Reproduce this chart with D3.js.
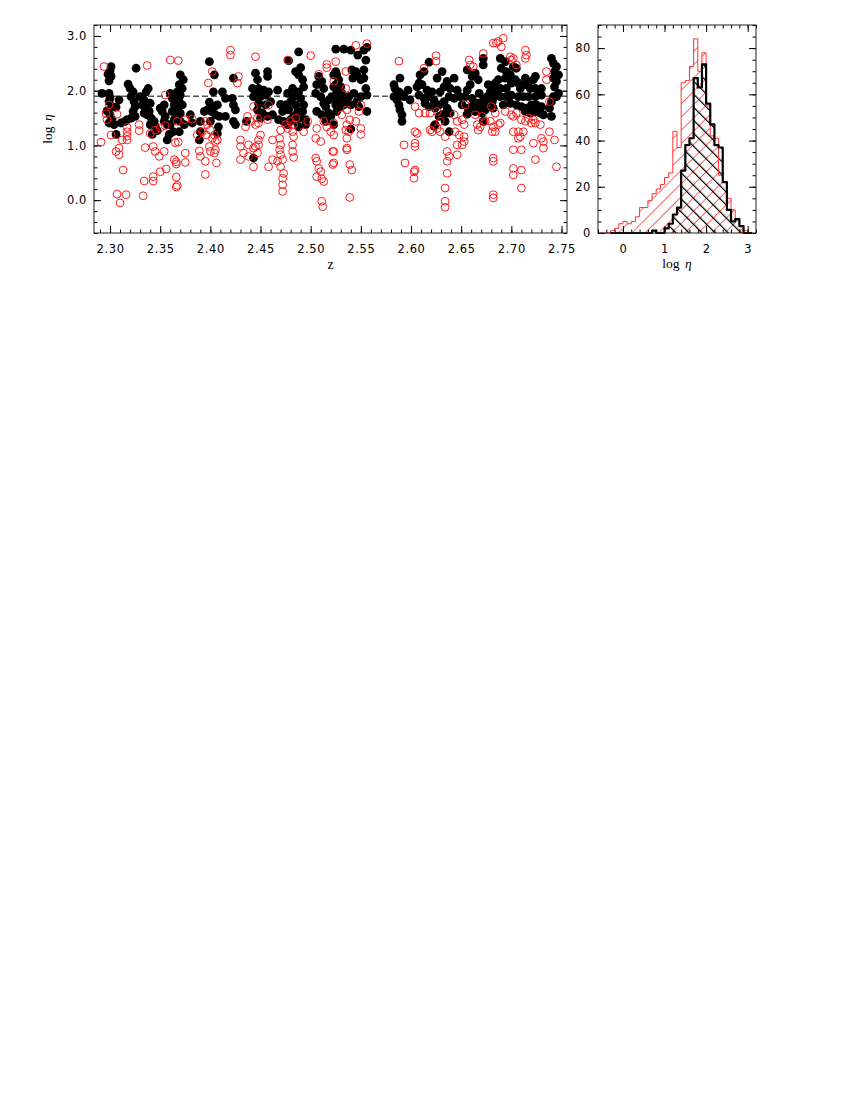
<!DOCTYPE html>
<html>
<head>
<meta charset="utf-8">
<script src="https://cdn.jsdelivr.net/npm/d3@7"></script>
<style>body{margin:0;background:#fff}</style>
</head>
<body>
<svg width="850" height="1100"></svg>
<script>
// black: above the cut, red open: the rest  [z, log eta]
var blackPts = [
  [2.301,2.44],[2.300,2.36],[2.298,2.30],[2.301,2.26],[2.299,2.18],[2.326,2.41],
  [2.292,1.95],[2.299,1.95],[2.300,1.87],[2.299,1.80],[2.302,1.71],[2.297,1.63],[2.300,1.56],[2.302,1.47],[2.299,1.41],[2.304,1.38],
  [2.306,1.20],[2.309,1.83],[2.306,1.70],
  [2.311,1.41],[2.315,1.44],[2.317,1.47],[2.321,1.50],[2.325,1.53],
  [2.318,2.12],[2.320,2.04],[2.323,1.98],[2.321,1.89],[2.324,1.80],[2.325,1.71],[2.323,1.62],
  [2.330,1.89],[2.334,1.83],[2.332,1.74],[2.336,1.98],[2.338,2.04],[2.335,1.68],[2.339,1.62],[2.340,1.77],
  [2.334,1.59],[2.337,1.56],[2.341,1.50],[2.344,1.44],[2.340,1.38],[2.345,1.35],[2.347,1.27],[2.342,1.20],
  [2.350,1.68],[2.354,1.74],[2.352,1.62],[2.355,1.53],[2.354,1.44],[2.357,1.38],[2.359,1.20],[2.357,1.10],
  [2.360,1.95],[2.362,1.86],[2.364,1.74],[2.362,1.62],[2.364,1.47],[2.360,1.38],[2.363,1.25],
  [2.370,2.29],[2.373,2.20],[2.369,2.11],[2.372,2.04],[2.367,1.98],[2.370,1.92],[2.366,1.86],[2.369,1.80],[2.372,1.74],[2.367,1.65],[2.370,1.59],[2.366,1.50],[2.370,1.44],[2.374,1.38],[2.369,1.25],
  [2.380,1.56],[2.382,1.41],[2.390,1.44],[2.389,1.10],[2.390,1.25],
  [2.394,1.62],[2.397,1.65],[2.401,1.62],[2.399,1.79],[2.404,1.71],[2.407,1.74],[2.405,1.56],[2.400,1.44],
  [2.399,2.53],[2.404,2.29],[2.409,1.53],[2.408,1.34],[2.407,1.22],
  [2.403,1.98],[2.412,1.98],[2.415,1.86],
  [2.423,2.23],[2.422,1.86],[2.423,1.74],[2.425,1.65],[2.423,1.44],[2.425,1.38],
  [2.415,1.53],[2.436,1.44],[2.442,2.04],[2.443,1.89],[2.443,0.77],[2.445,2.32],
  [2.447,2.20],[2.457,2.35],[2.457,2.26],
  [2.448,2.04],[2.453,2.01],[2.458,1.98],[2.445,1.95],[2.450,1.89],[2.455,1.92],[2.460,1.80],[2.448,1.77],[2.455,1.74],[2.447,1.65],[2.452,1.59],[2.450,1.50],[2.457,1.53],[2.462,1.56],
  [2.468,1.47],[2.473,1.44],[2.477,1.38],[2.467,2.01],[2.470,1.75],[2.472,1.62],
  [2.478,2.55],[2.488,2.71],[2.490,2.42],
  [2.477,1.95],[2.482,2.04],[2.483,1.89],[2.480,1.80],[2.475,1.74],[2.478,1.65],[2.485,1.74],[2.487,1.62],[2.483,1.53],[2.480,1.47],[2.485,1.44],[2.490,1.50],[2.492,1.62],[2.493,1.74],[2.490,1.86],[2.488,1.98],[2.493,2.07],[2.492,2.20],[2.488,2.29],[2.485,2.35],[2.495,1.38],[2.495,1.47],[2.488,1.34],
  [2.505,1.95],[2.508,2.26],[2.511,2.17],[2.506,2.11],[2.513,2.04],[2.510,1.89],[2.513,1.77],[2.506,1.62],[2.511,1.56],[2.515,1.71],[2.518,1.83],[2.521,1.89],[2.523,2.07],[2.523,2.29],[2.520,1.53],[2.515,1.44],[2.523,1.38],[2.518,1.59],
  [2.525,2.76],[2.533,2.76],[2.540,2.74],[2.547,2.65],[2.553,2.74],[2.556,2.79],[2.555,2.56],
  [2.525,2.35],[2.526,2.29],[2.528,2.20],[2.525,2.11],[2.530,2.07],[2.526,1.98],[2.531,1.95],[2.525,1.86],[2.528,1.80],[2.525,1.74],[2.530,1.71],[2.526,1.62],[2.531,1.89],
  [2.536,1.80],[2.540,1.74],[2.538,1.89],[2.543,1.95],[2.542,2.23],[2.541,2.38],[2.545,2.35],[2.546,2.29],[2.550,2.20],[2.553,2.38],[2.553,2.23],[2.555,2.04],[2.556,1.92],
  [2.533,1.74],[2.540,1.30],[2.550,1.89],[2.546,1.80],[2.548,1.71],[2.556,1.62],
  [2.583,2.11],[2.584,2.04],[2.589,2.23],[2.588,1.98],[2.591,1.92],[2.583,1.89],[2.586,1.83],[2.588,1.74],[2.589,1.65],[2.591,1.56],[2.591,1.44],[2.593,1.89],[2.597,2.01],[2.599,1.83],
  [2.618,2.52],[2.613,2.35],[2.609,2.29],[2.608,2.14],[2.606,2.07],[2.611,2.11],[2.616,2.01],[2.608,1.92],[2.613,1.86],[2.618,1.89],[2.621,1.98],[2.623,1.83],[2.614,1.77],[2.618,1.71],[2.624,1.68],[2.628,1.74],[2.633,1.80],[2.629,1.98],[2.631,2.35],[2.626,2.23],[2.633,2.07],[2.636,2.17],[2.639,2.04],[2.643,2.23],[2.646,2.01],[2.649,1.89],[2.651,1.74],[2.643,1.86],[2.638,1.89],[2.636,1.68],[2.639,1.59],[2.631,1.56],[2.628,1.53],[2.634,1.44],[2.633,1.56],[2.624,1.38],[2.623,1.35],[2.638,1.25],
  [2.656,2.01],[2.659,2.11],[2.654,1.89],[2.661,1.86],[2.662,1.74],[2.657,1.68],[2.666,1.77],[2.669,1.71],[2.672,1.83],[2.674,1.74],[2.664,1.62],[2.671,1.59],[2.674,1.65],[2.679,1.98],[2.682,2.07],[2.681,1.80],[2.682,1.68],[2.677,2.11],[2.672,2.59],[2.672,2.47],[2.667,2.20],[2.664,2.32],[2.661,2.26],[2.656,2.38],[2.672,1.44],[2.656,1.57],[2.668,1.95],[2.676,1.89],
  [2.689,2.59],[2.694,2.53],[2.690,2.41],[2.695,2.35],[2.702,2.44],[2.705,2.41],[2.699,2.29],[2.694,2.23],[2.687,2.20],[2.684,2.14],[2.682,2.07],[2.689,2.04],[2.695,2.04],[2.700,2.14],[2.704,2.20],[2.707,2.14],[2.709,2.04],[2.714,2.11],[2.714,2.23],[2.717,2.14],[2.722,2.20],[2.724,2.26],[2.719,2.04],[2.724,2.04],[2.727,1.98],[2.730,2.04],[2.730,1.92],[2.724,1.89],[2.717,1.89],[2.712,1.89],[2.707,1.89],[2.700,1.92],[2.695,1.89],[2.689,1.89],[2.684,1.95],[2.682,1.86],[2.692,1.74],[2.699,1.77],[2.705,1.74],[2.710,1.71],[2.715,1.68],[2.720,1.74],[2.725,1.74],[2.730,1.71],[2.724,1.62],[2.729,1.59],[2.732,1.56],[2.719,1.59],[2.714,1.62],
  [2.740,2.59],[2.742,2.50],[2.745,2.44],[2.743,2.35],[2.747,2.29],[2.742,2.23],[2.745,2.17],[2.743,2.07],[2.747,1.95],[2.742,1.89],[2.740,1.80],[2.745,1.89],[2.738,1.68],[2.740,1.53]
];

var redPts = [
  [2.294,2.44],[2.337,2.46],[2.360,2.56],[2.368,2.55],
  [2.299,1.74],[2.297,1.47],[2.307,1.57],[2.301,1.19],[2.291,1.06],[2.296,1.58],
  [2.317,1.33],[2.317,1.25],[2.317,1.17],[2.317,1.10],[2.312,1.10],
  [2.309,0.95],[2.306,0.89],[2.309,0.83],[2.313,0.55],
  [2.307,0.11],[2.316,0.10],[2.310,-0.05],
  [2.329,1.38],[2.329,1.27],[2.333,0.08],[2.334,0.35],[2.335,0.96],
  [2.343,0.98],[2.345,0.89],[2.343,0.43],[2.343,0.35],[2.349,0.80],[2.350,0.52],[2.354,0.89],[2.356,0.57],
  [2.340,1.22],[2.345,1.28],[2.350,1.32],[2.355,1.36],[2.364,0.74],[2.366,0.42],[2.366,0.24],[2.367,0.27],[2.355,1.92],
  [2.398,2.14],[2.402,2.35],[2.420,2.74],[2.420,2.65],[2.428,2.26],[2.427,2.14],[2.445,2.62],
  [2.367,1.44],[2.375,1.47],[2.368,1.06],[2.375,0.86],[2.375,0.69],[2.366,0.70],[2.366,0.66],
  [2.395,1.44],[2.397,1.38],[2.392,1.25],[2.396,1.19],[2.400,1.28],[2.402,1.13],[2.404,1.19],[2.405,1.07],[2.407,1.10],
  [2.389,0.90],[2.390,0.80],[2.395,0.71],[2.399,0.98],[2.400,0.89],[2.404,0.86],[2.405,0.92],[2.406,0.68],[2.395,0.47],
  [2.430,1.10],[2.430,0.98],[2.433,0.86],[2.430,0.74],[2.438,0.80],[2.443,0.95],[2.443,0.61],[2.438,1.01],
  [2.437,1.53],[2.440,1.44],[2.443,1.71],[2.435,1.34],[2.387,1.19],[2.382,1.48],[2.365,1.05],
  [2.477,2.56],[2.500,2.64],[2.516,2.48],[2.516,2.42],[2.508,2.30],[2.523,2.17],
  [2.447,1.50],[2.445,1.38],[2.448,1.41],[2.450,1.19],[2.448,1.10],[2.445,0.98],[2.448,1.01],[2.447,0.86],
  [2.458,1.74],[2.457,1.47],[2.462,1.10],[2.462,0.74],[2.458,0.61],
  [2.470,1.28],[2.469,1.13],[2.470,1.01],[2.469,0.92],[2.470,0.83],[2.472,0.74],[2.470,0.61],[2.467,0.71],[2.473,0.49],[2.472,0.40],[2.472,0.28],[2.472,0.16],
  [2.475,1.38],[2.477,1.31],[2.480,1.44],[2.483,1.38],[2.485,1.50],[2.482,1.25],[2.483,1.16],[2.482,1.01],[2.482,0.89],[2.483,0.78],
  [2.497,1.44],[2.493,1.25],
  [2.506,1.31],[2.505,1.13],[2.510,1.07],[2.505,0.77],[2.506,0.71],[2.508,0.58],[2.510,0.52],[2.506,0.43],[2.511,0.39],[2.513,0.34],[2.511,-0.02],[2.512,-0.12],
  [2.516,1.34],[2.520,1.25],[2.523,1.19],[2.522,0.89],[2.522,0.65],[2.513,1.44],
  [2.545,2.83],[2.556,2.86],[2.525,2.53],[2.535,2.35],[2.535,2.04],
  [2.550,1.74],[2.548,1.62],[2.536,1.65],[2.531,1.56],
  [2.539,1.47],[2.545,1.44],[2.536,1.38],[2.535,1.28],[2.538,1.25],[2.550,1.31],[2.550,1.20],[2.536,1.13],[2.536,0.95],[2.536,0.92],[2.539,0.65],[2.541,0.55],[2.539,0.05],
  [2.523,1.41],[2.523,0.89],[2.523,0.68],
  [2.588,2.54],[2.593,1.01],[2.594,0.68],[2.603,0.52],[2.603,0.40],[2.604,1.25],
  [2.625,2.64],[2.625,2.54],[2.613,2.41],[2.658,2.56],[2.659,2.47],[2.662,2.44],[2.672,2.68],[2.682,2.87],
  [2.604,1.71],[2.608,1.59],[2.604,1.04],[2.604,0.98],[2.606,1.22],[2.604,0.55],
  [2.619,1.59],[2.614,1.59],
  [2.626,1.62],[2.629,1.44],[2.626,1.31],[2.619,1.28],[2.621,1.25],[2.629,1.25],[2.634,1.16],
  [2.636,0.89],[2.638,0.80],[2.636,0.71],[2.636,0.49],[2.634,0.22],[2.634,-0.02],[2.634,-0.13],
  [2.646,0.83],[2.646,1.01],[2.653,1.07],[2.651,1.01],[2.653,1.16],
  [2.643,1.56],[2.646,1.44],[2.651,1.47],[2.653,1.38],[2.648,1.19],[2.644,1.25],
  [2.666,1.38],[2.669,1.34],[2.667,1.28],[2.674,1.44],[2.671,1.53],[2.664,1.56],[2.679,1.44],[2.681,1.25],[2.682,1.34],
  [2.682,0.77],[2.682,0.71],[2.682,0.10],[2.682,0.04],[2.654,1.74],
  [2.687,2.90],[2.692,2.96],[2.690,2.80],[2.685,2.87],
  [2.699,2.62],[2.702,2.59],[2.700,2.56],[2.705,2.47],[2.714,2.74],[2.715,2.65],[2.714,2.59],
  [2.735,2.35],[2.735,2.20],[2.738,1.80],
  [2.680,1.71],[2.684,1.59],[2.694,1.62],[2.700,1.56],[2.702,1.53],[2.705,1.59],[2.710,1.47],[2.714,1.44],[2.717,1.50],[2.720,1.41],[2.722,1.47],[2.724,1.41],[2.729,1.38],
  [2.689,1.41],[2.684,1.25],[2.687,1.38],[2.702,1.25],[2.707,1.25],[2.709,1.16],[2.712,1.25],[2.707,1.13],
  [2.722,1.04],[2.730,1.13],[2.732,1.07],[2.732,0.95],[2.738,1.25],[2.743,1.10],
  [2.702,0.92],[2.710,0.92],[2.724,0.74],[2.702,0.58],[2.702,0.46],[2.710,0.55],[2.710,0.22],[2.745,0.61]
];

// histogram of log eta, bins 0.1 wide (left edges)
var binEdges = [-0.6,-0.5,-0.4,-0.3,-0.2,-0.1,0.0,0.1,0.2,0.3,0.4,0.5,0.6,0.7,0.8,0.9,1.0,1.1,1.2,1.3,1.4,1.5,1.6,1.7,1.8,1.9,2.0,2.1,2.2,2.3,2.4,2.5,2.6,2.7,2.8,2.9,3.0];
var redCounts   = [0,0,0,1,2,4,5,4,5,7,11,11,14,17,19,21,24,26,44,37,65,66,72,84,70,78,55,42,41,25,22,15,10,6,3,1,0];
var blackCounts = [null,null,null,0,0,0,0,0,0,0,0,0,0,1,0,0,2,4,8,11,27,38,41,67,63,73,56,47,38,37,22,10,5,6,3,0,0];

var zTicks = [2.30,2.35,2.40,2.45,2.50,2.55,2.60,2.65,2.70,2.75];
var etaTicks = [0,1,2,3];
var countTicks = [0,20,40,60,80];
var cutLevel = 1.9;

var svg = d3.select("svg");
var numFont = "'DejaVu Sans', sans-serif";
var txtFont = "'Liberation Serif', serif";

var x = d3.scaleLinear().domain([2.284, 2.7555]).range([94, 567]);
var y = d3.scaleLinear().domain([-0.6, 3.2]).range([233, 25]);
var hx = d3.scaleLinear().domain([-0.6, 3.2]).range([598, 756]);
var hy = d3.scaleLinear().domain([0, 90]).range([233, 25]);

function range(a, b, s) { return d3.range(Math.round((b - a) / s) + 1).map(function(i) { return +(a + i * s).toFixed(4); }); }

// ticks on all four sides, pointing in
function frame(xs, ys, xMaj, xMin, yMaj, yMin, xFmt, yFmt) {
  var g = svg.append("g");
  var X0 = xs.range()[0], X1 = xs.range()[1], Y0 = ys.range()[1], Y1 = ys.range()[0];
  function ax(a, tr, vals, len, fmt, pad) {
    var s = g.append("g").attr("transform", tr)
      .call(a.tickValues(vals).tickSizeInner(-len).tickSizeOuter(0).tickPadding(pad).tickFormat(fmt || ""));
    s.select(".domain").remove();
    s.selectAll("line").attr("stroke", "#000");
    s.selectAll("text").style("font-family", numFont).style("font-size", "11.5px").attr("fill", "#000").style("letter-spacing", "0.6px");
    return s;
  }
  ax(d3.axisBottom(xs), "translate(0," + Y1 + ")", xMaj, 7, xFmt, 12);
  ax(d3.axisBottom(xs), "translate(0," + Y1 + ")", xMin, 3.5, null, 0);
  ax(d3.axisTop(xs), "translate(0," + Y0 + ")", xMaj, 7, null, 0);
  ax(d3.axisTop(xs), "translate(0," + Y0 + ")", xMin, 3.5, null, 0);
  ax(d3.axisLeft(ys), "translate(" + X0 + ",0)", yMaj, 7, yFmt, 7);
  ax(d3.axisLeft(ys), "translate(" + X0 + ",0)", yMin, 3.5, null, 0);
  ax(d3.axisRight(ys), "translate(" + X1 + ",0)", yMaj, 7, null, 0);
  ax(d3.axisRight(ys), "translate(" + X1 + ",0)", yMin, 3.5, null, 0);
  g.append("rect").attr("x", X0).attr("y", Y0).attr("width", X1 - X0).attr("height", Y1 - Y0)
    .attr("fill", "none").attr("stroke", "#222").attr("stroke-width", 1);
}

// hatch patterns
var defs = svg.append("defs");
function hatch(id, angle, gap, color, w) {
  var p = defs.append("pattern").attr("id", id).attr("patternUnits", "userSpaceOnUse")
    .attr("width", gap).attr("height", gap).attr("patternTransform", "rotate(" + angle + ")");
  p.append("line").attr("x1", 0).attr("y1", 0).attr("x2", 0).attr("y2", gap)
    .attr("stroke", color).attr("stroke-width", w);
}
hatch("redHatch", 45, 9.4, "#ff0000", 1.2);
hatch("blackHatch", -45, 9.2, "#000", 2.4);

// ---- left panel ----
svg.append("line")
  .attr("x1", x.range()[0]).attr("x2", x.range()[1])
  .attr("y1", y(cutLevel)).attr("y2", y(cutLevel))
  .attr("stroke", "#000").attr("stroke-width", 1).attr("stroke-dasharray", "6,3");

svg.append("g").selectAll("circle").data(blackPts).enter().append("circle")
  .attr("cx", function(d) { return x(d[0]); })
  .attr("cy", function(d) { return y(d[1]); })
  .attr("r", 4.4).attr("fill", "#000");

svg.append("g").selectAll("circle").data(redPts).enter().append("circle")
  .attr("cx", function(d) { return x(d[0]); })
  .attr("cy", function(d) { return y(d[1]); })
  .attr("r", 3.9).attr("fill", "none").attr("stroke", "#ff1a1a").attr("stroke-width", 1);

frame(x, y, zTicks, range(2.29, 2.75, 0.01), etaTicks, range(-0.6, 3.2, 0.2),
  d3.format(".2f"), d3.format(".1f"));

svg.append("text").attr("x", (x.range()[0] + x.range()[1]) / 2).attr("y", 269)
  .attr("text-anchor", "middle").style("font-family", txtFont).style("font-size", "14px").text("z");

function etaLabel(sel) {
  sel.style("font-family", txtFont).style("font-size", "13.5px").attr("text-anchor", "middle");
  sel.append("tspan").text("log\u2009\u2009");
  sel.append("tspan").style("font-style", "italic").text("\u03b7");
}
svg.append("text").attr("transform", "translate(52,129) rotate(-90)").call(etaLabel);

// ---- right panel ----
function steps(counts) {
  var pts = [];
  binEdges.forEach(function(e, i) {
    if (counts[i] == null) return;
    if (!pts.length) pts.push([e, 0]);
    pts.push([e, counts[i]]);
    pts.push([e + 0.1, counts[i]]);
  });
  pts.push([pts[pts.length - 1][0], 0]);
  return pts;
}
var line = d3.line().x(function(d) { return hx(d[0]); }).y(function(d) { return hy(d[1]); });
var area = d3.area().x(function(d) { return hx(d[0]); }).y0(hy(0)).y1(function(d) { return hy(d[1]); });

var redSteps = steps(redCounts), blackSteps = steps(blackCounts);
svg.append("path").datum(redSteps).attr("d", area).attr("fill", "url(#redHatch)");
svg.append("path").datum(blackSteps).attr("d", area).attr("fill", "url(#blackHatch)");
svg.append("path").datum(redSteps).attr("d", line).attr("fill", "none").attr("stroke", "#ff3030").attr("stroke-width", 1);
svg.append("path").datum(blackSteps).attr("d", line).attr("fill", "none").attr("stroke", "#000").attr("stroke-width", 2.2).attr("stroke-linejoin", "round");

frame(hx, hy, etaTicks, range(-0.6, 3.2, 0.2), countTicks, range(0, 90, 5),
  d3.format("d"), d3.format("d"));

svg.append("text").attr("transform", "translate(677,268)").call(etaLabel);
</script>
</body>
</html>
